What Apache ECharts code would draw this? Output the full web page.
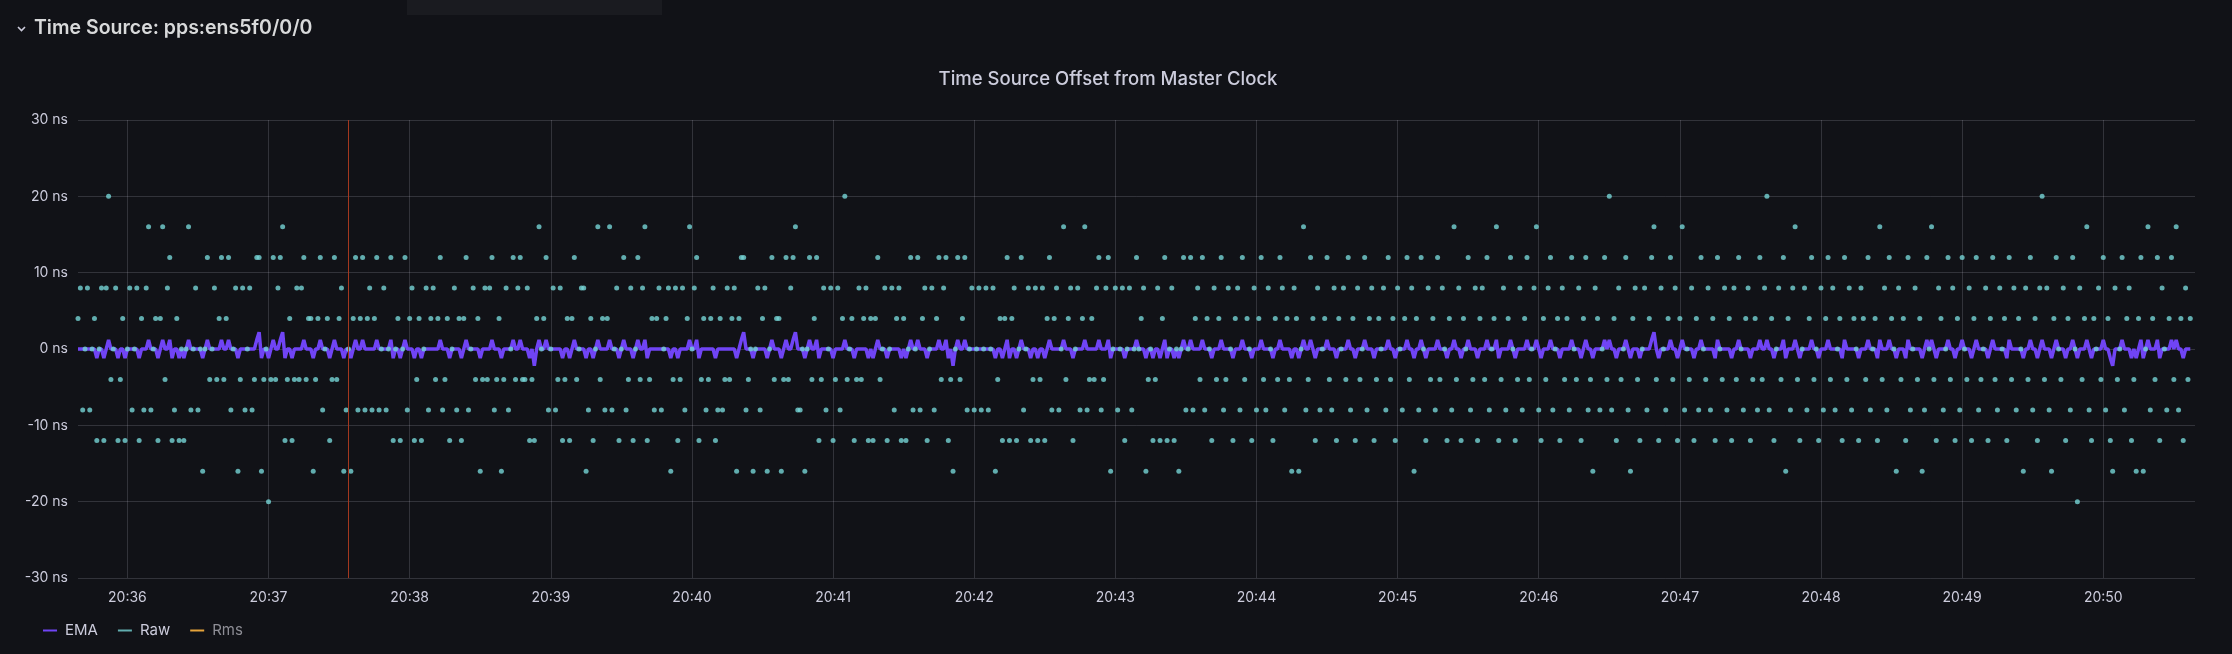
<!DOCTYPE html>
<html><head><meta charset="utf-8">
<script src="https://cdn.jsdelivr.net/npm/echarts@6/dist/echarts.min.js"></script>
<style>html,body{margin:0;padding:0;background:#111217;}#c{width:2232px;height:654px;}</style>
</head><body><div id="c"></div>
<script>
// ---- data ----
const startTime = '2024-01-01T20:35:39';
const endTime = '2024-01-01T20:50:39';
const annotationTime = '2024-01-01T20:37:34';
const seriesNames = ['EMA', 'Raw', 'Rms'];
const panelTitle = 'Time Source: pps:ens5f0/0/0';
const chartTitle = 'Time Source Offset from Master Clock';
const yMin = -30, yMax = 30, yStep = 10;
// Raw offset, one sample per second (ns)
const rawPart1 = [4,8,-8,0,8,-8,0,4,-12,0, 8,-12,8,20,-4,0,8,-12,-4,4, -12,0,8,-8,0,8,-12,4,-8,8,
 16,-8,0,4,-12,4,16,-4,8,12, -12,-8,4,-12,0,-12,0,16,-8,0, 8,-8,0,-16,0,12,-4,0,8,-4,
 4,12,-4,4,12,-8,0,8,-16,-4, 8,-8,0,8,-8,-4,12,12,-16,-4, 0,-20,-4,12,-4,8,12,16,-12,-4,
 4,-12,-4,8,-4,8,12,-4,4,4, -16,-4,4,12,-8,0,4,-12,-4,12, -4,4,8,-16,-8,0,-16,4,12];
const rawPart2 = [-8,4,12,-8,4,8,-8,4,12,-8,0, 8,-8,0,12,-12,0,4,-12,0,12, -8,4,8,-12,-4,4,-12,0,8,-8,
 4,8,-4,4,12,-8,-4,4,-12,0, 8,-8,4,-12,4,12,-8,0,8,-4, 4,-16,-4,8,-4,8,12,-8,-4,4,
 -16,-4,8,-8,0,12,-4,8,12,-4, -4,8,-12,-4,-12,4,16,0,4,12, -8,0,8,-8,-4,8,-12,-4,4,-12,
 4,12,-4,0,8,8,-16,-8,4,-12, 0,16,-4,4,-8,4,16,-8,0,8, -12,0,12,-8,-4,8,-12,0];
const rawPart3 = [12,-4,8,16,-12,-4,4,-8,4,8,-8,0, 4,8,-16,-4,8,-12,-4,8,-8,4, 16,0,8,12,-12,-4,4,-8,-4,4,
 8,-12,-8,4,-8,-4,8,-4,4,8, -16,4,12,12,-8,-4,0,-16,0,8, -8,4,8,-16,0,12,-4,4,4,-16,
 -4,12,-4,8,12,16,-8,-8,0,-16, 0,12,-4,4,12,-12,-4,8,-8,0, 8,-12,-4,8,-8,4,20,-4,0,4,
 -12,-4,8,-4,4,8,-12,4,-12,4, 12,-4,0,8,-12,0,8,-8,4,8, -12,4,-12,0,12,-8,0,12];
const rawPart4 = [-8,4,8,-12,0,8,-8,4,12,-4,8,12, -12,-4,-16,0,12,-4,4,12,-8,0, 8,-8,0,8,-8,0,8,-8,0,8,
 -16,-4,4,-12,4,12,-12,4,8,-12, 0,12,-8,0,8,-12,-4,8,-12,-4, 8,-12,4,12,-8,4,8,-8,0,16,
 -4,4,8,-12,0,8,-8,4,16,-8, -4,4,-4,8,12,-8,-4,8,12,-16, 0,8,-8,0,8,-12,0,8,-8,0,
 12,0,4,8,-16,-4,0,-12,-4,8, -12,4,12,-12,0,8,-12,0,-16,0, 12,-8,0,12,-8,4];
const rawPart5 = [8,-4,12,-8,4,0,-12,8,-4,4, 12,-8,-4,8,0,-12,4,8,-8,12, -4,4,0,-12,8,-8,4,12,-4,-8,
 8,0,-12,4,-4,12,8,-8,4,-4, -16,8,4,-16,0,16,-8,-4,12,4, -12,8,-8,0,4,12,-4,-8,8,-12,
 4,0,8,-4,12,-8,4,-12,8,-4, 0,12,-8,4,8,-12,-4,4,0,8, -8,12,-4,4,-12,8,0,-8,4,12,
 -4,8,-16,4,-8,12,0,-12,8,-4, 4,-8,12,-4,8,0,-12,4,-8,16, -4,8,-12,4,0,12,-8,-4,8,-12];
const rawPart6 = [4,8,-4,12,-8,0,4,16,-12,-4, 8,-8,4,12,0,-12,-4,8,-8,4, 12,-4,0,8,16,-8,-12,4,-4,8,
 12,-8,0,4,-12,8,-4,4,-8,12, 0,-4,8,-12,4,12,-8,-4,-16,8, 4,-8,0,12,-4,20,-8,4,-12,8,
 -4,0,12,-8,-16,4,8,-4,-12,0, 8,-8,4,12,16,-4,-12,8,0,-8, 4,12,-4,8,-12,4,16,-8,0,-4,
 8,-12,4,-8,12,0,-4,8,-8,4, -12,12,0,-4,8,-8,4,-12,8,-4, 12,0,-8,4,8,-12,-4,4,-8,12];
const rawPart7 = [-4,8,20,-8,4,-12,0,8,-4,12, -16,4,-8,8,16,-4,-12,0,8,-8, 4,12,-4,0,-12,8,-8,4,12,-4,
 8,-8,0,4,-12,12,-4,8,-8,4, 0,-12,8,4,-4,12,-8,0,4,-12, 16,-4,8,-8,12,4,0,-16,8,-4,
 4,-12,12,-8,0,8,-4,4,-16,-8, 12,0,16,-4,-12,8,4,-8,0,12, -4,8,-12,4,-8,12,0,-4,8,-12,
 4,12,-8,-4,0,8,-12,4,12,-4, -8,8,0,4,-12,12,-4,8,-8,4, 0,-16,8,-4,12,-8,4,-12,8,20];
const rawPart8 = [-4,8,-8,-16,4,12,0,-4,8,-12, 4,-8,12,0,-20,8,-4,4,16,-8, -12,4,0,8,-4,12,-8,4,-12,-16,
 8,-4,0,12,-8,4,8,-12,-4,-16, 4,12,-16,0,16,-8,4,-4,12,-12, 8,0,-8,4,12,-4,16,-8,4,-12,
 8,-4,4];
// EMA: flat at 0 ns except short spikes (second index -> level)
const emaSpikeLevels = [1.2, 2.2, -1.2, -2.2];
const emaSpikeSecs = [
 [13,30,36,39,47,55,61,64,76,83,86,96,103,109,118,121,127,133,139,154,165,176,185,188,196,199,211,221,226,232,238,241,260,263,282,295,301,304,311,314,326,340,354,357,366,369,374,377,395,401,413,419,428,434,438,450,462,470,473,
  478,486,495,503,511,521,524,531,540,547,557,565,571,578,585,591,599,603,609,616,620,626,635,641,649,651,658,669,677,682,690,697,706,715,
  718,725,730,737,744,751,761,766,770,778,786,788,795,801,807,814,821,830,835,841,848,854,861,869,877,880,884,890,892],
 [77,87,283,305,670],
 [8,11,17,20,26,34,40,43,45,53,68,78,81,88,91,100,107,113,116,134,137,143,146,158,163,171,180,192,206,209,216,219,230,236,242,252,255,264,271,280,287,293,299,309,315,321,330,336,338,344,350,352,361,370,390,393,396,399,405,408,411,423,439,445,454,457,460,463,466,468,
  482,491,499,508,516,519,526,535,543,551,560,568,573,582,588,595,604,611,622,630,639,644,654,660,664,672,680,687,696,703,711,
  721,726,732,740,750,757,765,773,777,784,790,798,805,812,820,827,833,839,845,850,856,864,873,875,878,885,895],
 [194,372,865]
];

// ---- build ----
const raw = [].concat(rawPart1, rawPart2, rawPart3, rawPart4, rawPart5, rawPart6, rawPart7, rawPart8);
const t0 = new Date(startTime).getTime();
const t1 = new Date(endTime).getTime();
const emaMap = new Map();
emaSpikeSecs.forEach((list, k) => list.forEach(s => emaMap.set(s, emaSpikeLevels[k])));
const rawData = raw.map((v, i) => [t0 + i * 1000, v]);
const emaData = raw.map((v, i) => [t0 + i * 1000, emaMap.has(i) ? emaMap.get(i) : 0]);

const textColor = '#ccccdc';
const gridColor = 'rgba(204,204,220,0.18)';
const chart = echarts.init(document.getElementById('c'), null, {renderer: 'canvas'});
chart.setOption({
  backgroundColor: '#111217',
  animation: false,
  textStyle: {fontFamily: 'Inter, Roboto, sans-serif'},
  graphic: [
    {type: 'rect', shape: {x: 407, y: 0, width: 255, height: 15}, style: {fill: '#1a1b20'}, silent: true},
    {type: 'polyline', shape: {points: [[18, 27], [21.5, 30.5], [25, 27]]}, style: {stroke: textColor, lineWidth: 1.6, fill: null}, silent: true},
    {type: 'text', x: 34, y: 28, silent: true,
     style: {text: panelTitle, fill: '#d8d9da', font: '600 19.5px Inter', textVerticalAlign: 'middle'}},
    {type: 'text', x: 1108, y: 79, silent: true,
     style: {text: chartTitle, fill: textColor, font: '500 18.5px Inter', textAlign: 'center', textVerticalAlign: 'middle'}}
  ],
  legend: {
    left: 43, top: 623, itemWidth: 14, itemHeight: 2, itemGap: 20, padding: 0,
    textStyle: {color: textColor, fontSize: 15, fontFamily: 'Inter', padding: [0, 0, 0, 3]},
    data: [
      {name: seriesNames[0], icon: 'rect'},
      {name: seriesNames[1], icon: 'rect'},
      {name: seriesNames[2], icon: 'rect', textStyle: {color: '#8e8e96'}}
    ]
  },
  grid: {left: 78, right: 37, top: 120, bottom: 76},
  xAxis: {
    type: 'time', min: t0, max: t1, minInterval: 60000, maxInterval: 60000,
    axisLine: {show: false}, axisTick: {show: false},
    axisLabel: {formatter: '{HH}:{mm}', color: textColor, fontSize: 14, margin: 13,
                showMinLabel: false, showMaxLabel: false, fontFamily: 'Inter'},
    splitLine: {show: true, showMinLine: false, showMaxLine: false, lineStyle: {color: gridColor, width: 1}}
  },
  yAxis: {
    type: 'value', min: yMin, max: yMax, interval: yStep,
    axisLine: {show: false}, axisTick: {show: false},
    axisLabel: {formatter: '{value} ns', color: textColor, fontSize: 14, margin: 10, fontFamily: 'Inter'},
    splitLine: {lineStyle: {color: gridColor, width: 1}}
  },
  series: [
    {name: seriesNames[0], type: 'line', data: emaData, showSymbol: false, color: '#7044f5',
     lineStyle: {width: 3.5, color: '#7044f5'}, z: 2,
     markLine: {symbol: 'none', silent: true, label: {show: false},
       lineStyle: {color: '#a3381f', width: 1, type: 'solid'},
       data: [{xAxis: new Date(annotationTime).getTime()}]}},
    {name: seriesNames[1], type: 'scatter', data: rawData, symbolSize: 5, color: '#76d4d6',
     itemStyle: {color: '#76d4d6'}, z: 3},
    {name: seriesNames[2], type: 'line', data: [], color: '#e5a33b'}
  ]
});
</script></body></html>
